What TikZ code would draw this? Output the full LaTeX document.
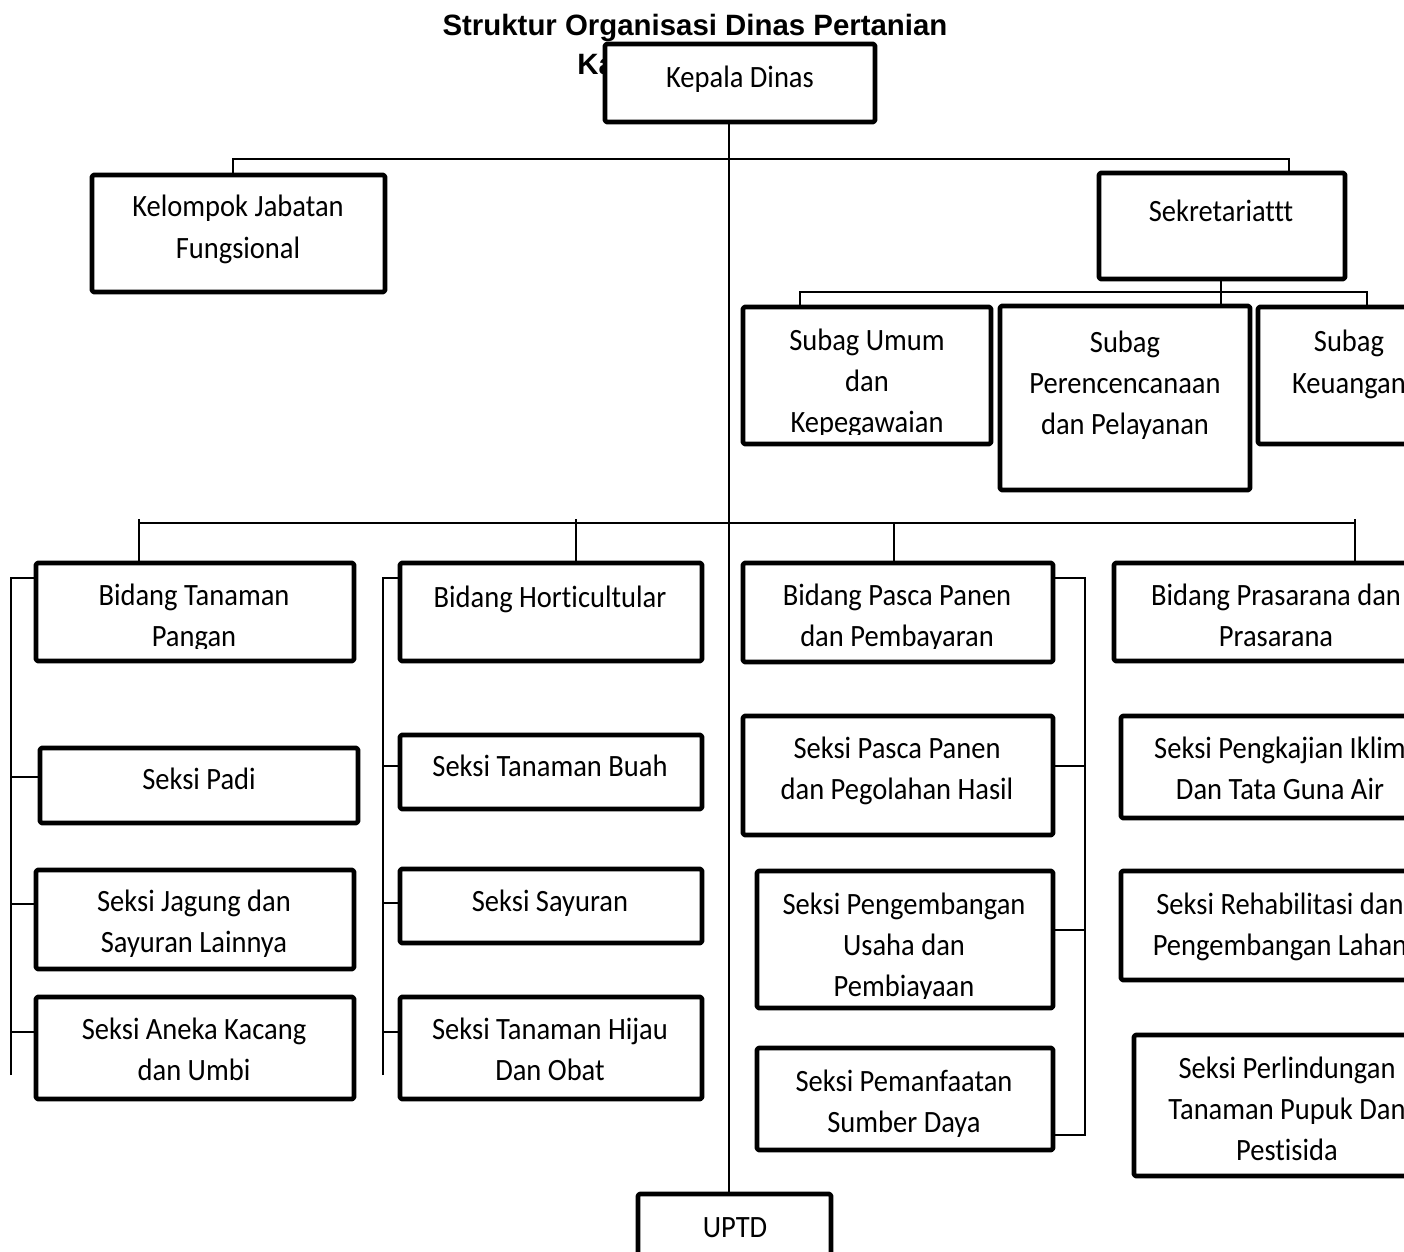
\documentclass[tikz,border=0pt]{standalone}
\usepackage{fontspec}
\setmainfont{Carlito}
\newfontfamily\bodyfont[FakeStretch=0.92,Ligatures=NoCommon]{Carlito}
\newfontfamily\titlefont{Liberation Sans}
\usetikzlibrary{fit}
\tikzset{
  box/.style={draw, line width=2.3pt, line join=round, rounded corners=0.8pt, fill=white, inner sep=0pt},
  conn/.style={line width=0.75pt},
  txt/.style={font=\bodyfont\fontsize{15.5}{20.5}\selectfont, inner sep=0pt, anchor=base},
  ttl/.style={font=\titlefont\bfseries\fontsize{14.7}{18}\selectfont, inner sep=0pt, anchor=base},
}
\newcommand\mytl[4]{\node[txt] (#1) at (#2,#3) {#4};}
\newcommand\mybox[5]{\node[box, fit={(#2,#3) (#4,#5)}] (#1) {};}
\begin{document}
\begin{tikzpicture}[x=0.5pt,y=-0.5pt]
\clip (0,0) rectangle (1404,1252);
\fill[white] (0,0) rectangle (1404,1252);
% title
\node[ttl] (title1) at (695,36) {Struktur Organisasi Dinas Pertanian};
\node[ttl, anchor=base west] (title2) at (577,75) {Ka};
% boxes
\mybox{kepala}{605}{44}{875}{122}
\mybox{kelompok}{92}{175}{385}{292}
\mybox{sekret}{1099}{173}{1345}{279}
\mybox{subagu}{743}{307}{991}{444}
\mybox{subagp}{1000}{306}{1250}{490}
\mybox{subagk}{1258}{307}{1440}{444}
\mybox{tp}{36}{563}{354}{661}
\mybox{hort}{400}{563}{702}{661}
\mybox{pp}{743}{563}{1053}{662}
\mybox{pr}{1114}{563}{1440}{661}
\mybox{padi}{40}{748}{358}{823}
\mybox{jagung}{36}{870}{354}{969}
\mybox{aneka}{36}{997}{354}{1099}
\mybox{buah}{400}{735}{702}{809}
\mybox{sayur}{400}{869}{702}{943}
\mybox{hijau}{400}{997}{702}{1099}
\mybox{spp}{743}{716}{1053}{835}
\mybox{peng}{757}{871}{1053}{1008}
\mybox{pem}{757}{1048}{1053}{1150}
\mybox{iklim}{1121}{716}{1440}{818}
\mybox{rehab}{1121}{871}{1440}{980}
\mybox{perl}{1134}{1035}{1440}{1176}
\mybox{uptd}{638}{1194}{831}{1290}
% texts
\mytl{kepalaT}{740}{88}{Kepala Dinas}
\mytl{kelompokA}{238}{217}{Kelompok Jabatan}
\mytl{kelompokB}{238}{258}{Fungsional}
\mytl{sekretT}{1221}{221}{Sekretariattt}
\mytl{subaguA}{867}{350}{Subag Umum}
\mytl{subaguB}{867}{391}{dan}
\begin{scope}\clip (0,0) rectangle (1404,434);
\mytl{subaguC}{867}{432}{Kepegawaian}
\end{scope}
\mytl{subagpA}{1125}{352}{Subag}
\mytl{subagpB}{1125}{393}{Perencencanaan}
\mytl{subagpC}{1125}{434}{dan Pelayanan}
\mytl{subagkA}{1349}{351}{Subag}
\mytl{subagkB}{1349}{393}{Keuangan}
\mytl{tpA}{194}{605}{Bidang Tanaman}
\begin{scope}\clip (0,0) rectangle (1404,648);
\mytl{tpB}{194}{646}{Pangan}
\mytl{ppB}{897}{646}{dan Pembayaran}
\end{scope}
\mytl{hortT}{550}{607}{Bidang Horticultular}
\mytl{ppA}{897}{605}{Bidang Pasca Panen}
\mytl{prA}{1276}{605}{Bidang Prasarana dan}
\mytl{prB}{1276}{646}{Prasarana}
\mytl{padiT}{199}{789}{Seksi Padi}
\mytl{jagungA}{194}{911}{Seksi Jagung dan}
\mytl{jagungB}{194}{952}{Sayuran Lainnya}
\mytl{anekaA}{194}{1039}{Seksi Aneka Kacang}
\mytl{anekaB}{194}{1080}{dan Umbi}
\mytl{buahT}{550}{776}{Seksi Tanaman Buah}
\mytl{sayurT}{550}{911}{Seksi Sayuran}
\mytl{hijauA}{550}{1039}{Seksi Tanaman Hijau}
\mytl{hijauB}{550}{1080}{Dan Obat}
\mytl{sppA}{897}{758}{Seksi Pasca Panen}
\mytl{sppB}{897}{799}{dan Pegolahan Hasil}
\mytl{pengA}{904}{914}{Seksi Pengembangan}
\mytl{pengB}{904}{955}{Usaha dan}
\begin{scope}\clip (0,0) rectangle (1404,998);
\mytl{pengC}{904}{996}{Pembiayaan}
\end{scope}
\mytl{pemA}{904}{1091}{Seksi Pemanfaatan}
\mytl{pemB}{904}{1132}{Sumber Daya}
\mytl{iklimA}{1280}{758}{Seksi Pengkajian Iklim}
\mytl{iklimB}{1280}{799}{Dan Tata Guna Air}
\mytl{rehabA}{1280}{914}{Seksi Rehabilitasi dan}
\mytl{rehabB}{1280}{955}{Pengembangan Lahan}
\mytl{perlA}{1287}{1078}{Seksi Perlindungan}
\mytl{perlB}{1287}{1119}{Tanaman Pupuk Dan}
\mytl{perlC}{1287}{1160}{Pestisida}
\mytl{uptdT}{735}{1237}{UPTD}
% connectors
\draw[conn] (729,0 |- kepala.south) -- (729,0 |- uptd.north);
\draw[conn] (233,0 |- kelompok.north) -- (233,159) -- (1289,159) -- (1289,0 |- sekret.north);
\draw[conn] (1221,0 |- sekret.south) -- (1221,0 |- subagp.north);
\draw[conn] (800,0 |- subagu.north) -- (800,292) -- (1367,292) -- (1367,0 |- subagk.north);
\draw[conn] (139,523) -- (1355,523);
\draw[conn] (139,519) -- (139,0 |- tp.north);
\draw[conn] (576,519) -- (576,0 |- hort.north);
\draw[conn] (894,523) -- (894,0 |- pp.north);
\draw[conn] (1355,519) -- (1355,0 |- pr.north);
% left column
\draw[conn] (11,1075) -- (11,578) -- (tp.west |- 0,578);
\draw[conn] (11,777) -- (padi.west |- 0,777);
\draw[conn] (11,904) -- (jagung.west |- 0,904);
\draw[conn] (11,1032) -- (aneka.west |- 0,1032);
% horticultural column
\draw[conn] (383,1075) -- (383,578) -- (hort.west |- 0,578);
\draw[conn] (383,766) -- (buah.west |- 0,766);
\draw[conn] (383,903) -- (sayur.west |- 0,903);
\draw[conn] (383,1032) -- (hijau.west |- 0,1032);
% pasca panen column
\draw[conn] (pp.east |- 0,578) -- (1085,578) -- (1085,1135) -- (pem.east |- 0,1135);
\draw[conn] (1085,766) -- (spp.east |- 0,766);
\draw[conn] (1085,930) -- (peng.east |- 0,930);
\end{tikzpicture}
\end{document}
